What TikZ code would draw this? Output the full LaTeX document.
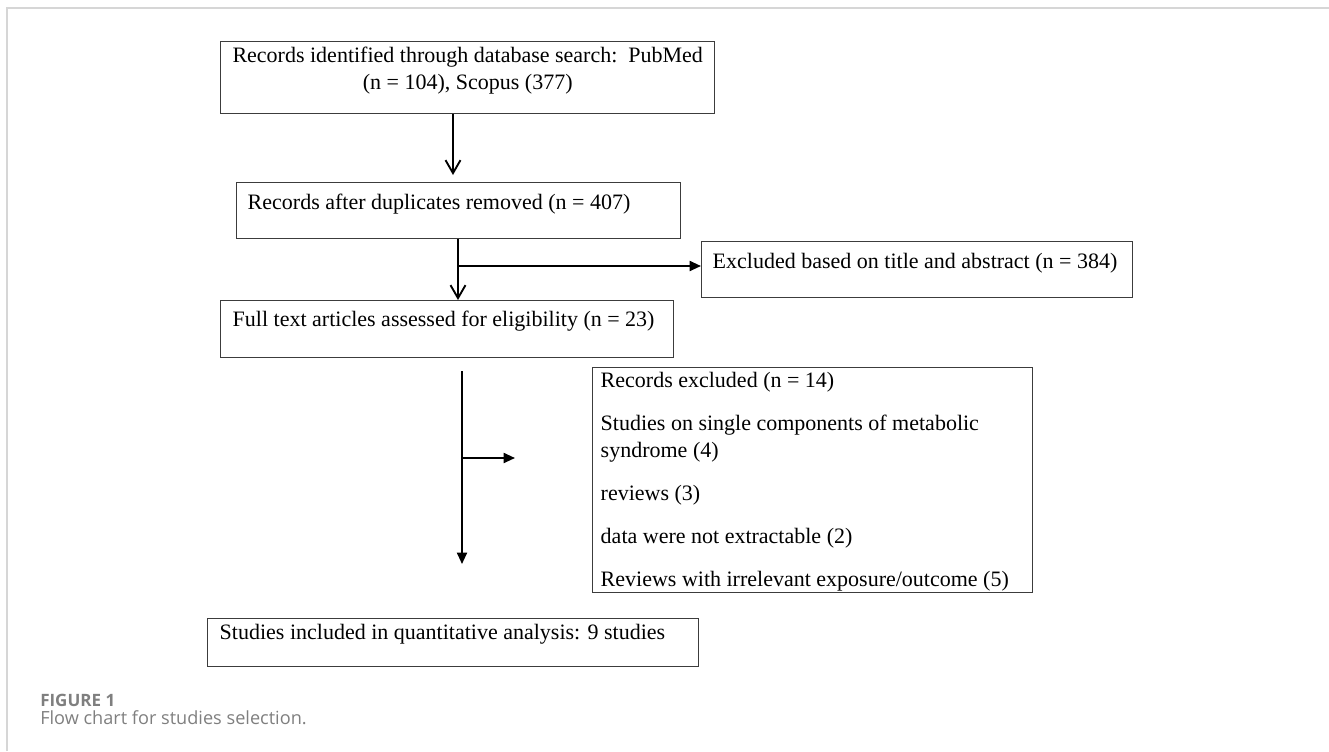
\documentclass[tikz,border=0pt]{standalone}
\usepackage{fontspec}
\setmainfont{Liberation Serif}
\newfontfamily\capfont{Open Sans}
\usepackage{tikz}
\usetikzlibrary{arrows.meta}
\usetikzlibrary{positioning}

\definecolor{framegray}{HTML}{D6D6D6}
\definecolor{capgray}{HTML}{7F7F7F}
\definecolor{boxgray}{HTML}{3C3C3C}

\tikzset{
    stage/.style={draw=boxgray, line width=1.1pt, anchor=north west,
        inner ysep=0pt, align=flush left,
        font=\fontsize{16.5pt}{20.25pt}\selectfont},
    vopen/.style={line width=1.4pt, -{Straight Barb[length=9.75pt,width=11.25pt]}},
    vfill/.style={line width=1.4pt, -{Triangle[length=8.5pt,width=7.5pt]}}
}

\begin{document}
\begin{tikzpicture}[x=0.75pt, y=-0.75pt]
        \useasboundingbox (0,0) rectangle (1329,751);
        \draw[framegray, line width=1.5pt] (7,751) -- (7,7.5) -- (1329,7.5);

        % boxes of the flow
        \node[stage, align=flush center, inner xsep=6pt, text width=358.5pt,
              text height=15.75pt, text depth=38.25pt] (ident) at (220,41)
            {Records identified through database search:\ \ PubMed\\ (n = 104), Scopus (377)};
        \node[stage, inner xsep=8.25pt, text width=316.5pt,
              text height=20.25pt, text depth=21.75pt] (dedup) at (236,182)
            {Records after duplicates removed (n = 407)};
        \node[stage, inner xsep=8.25pt, text width=306.75pt,
              text height=20.25pt, text depth=21.75pt] (screenout) at (701,241)
            {Excluded based on title and abstract (n = 384)};
        \node[stage, inner xsep=9pt, text width=321.75pt,
              text height=19.5pt, text depth=23.25pt] (fulltext) at (220,300)
            {Full text articles assessed for eligibility (n = 23)};
        \node[stage, inner xsep=6pt, text width=318pt,
              text height=15pt, text depth=153.75pt] (fullout) at (592,367)
            {Records excluded (n = 14)\\[12pt]
             Studies on single components of metabolic\\ syndrome (4)\\[12pt]
             reviews (3)\\[12pt]
             data were not extractable (2)\\[12pt]
             Reviews with irrelevant exposure/outcome (5)};
        \node[stage, inner xsep=9pt, text width=350.25pt,
              text height=15.75pt, text depth=20.25pt] (included) at (207,618)
            {Studies included in quantitative analysis: 9 studies};

        % arrows
        \coordinate (a1end) at (453,175);
        \coordinate (split1) at (458,266);
        \coordinate (drop) at (462,371);
        \coordinate (dropend) at (462,564);
        \coordinate (split2) at (462,458);
        \coordinate (sideend) at (515,458);
        \draw[vopen] (ident.south -| a1end) -- (a1end);
        \draw[vopen] (dedup.south -| split1) -- (fulltext.north -| split1);
        \draw[vfill] (split1) -- (split1 -| screenout.west);
        \draw[vfill] (drop) -- (dropend);
        \draw[vfill] (split2) -- (sideend);

        % caption
        \node[anchor=base west, inner sep=0pt, text=capgray,
              font=\capfont\bfseries\fontsize{12.75pt}{14pt}\selectfont] (figlabel) at (40,706) {FIGURE 1};
        \node[anchor=base west, inner sep=0pt, text=capgray,
              font=\capfont\fontsize{13.6pt}{15pt}\selectfont] (figcaption) at (40,724) {Flow chart for studies selection.};
\end{tikzpicture}
\end{document}
